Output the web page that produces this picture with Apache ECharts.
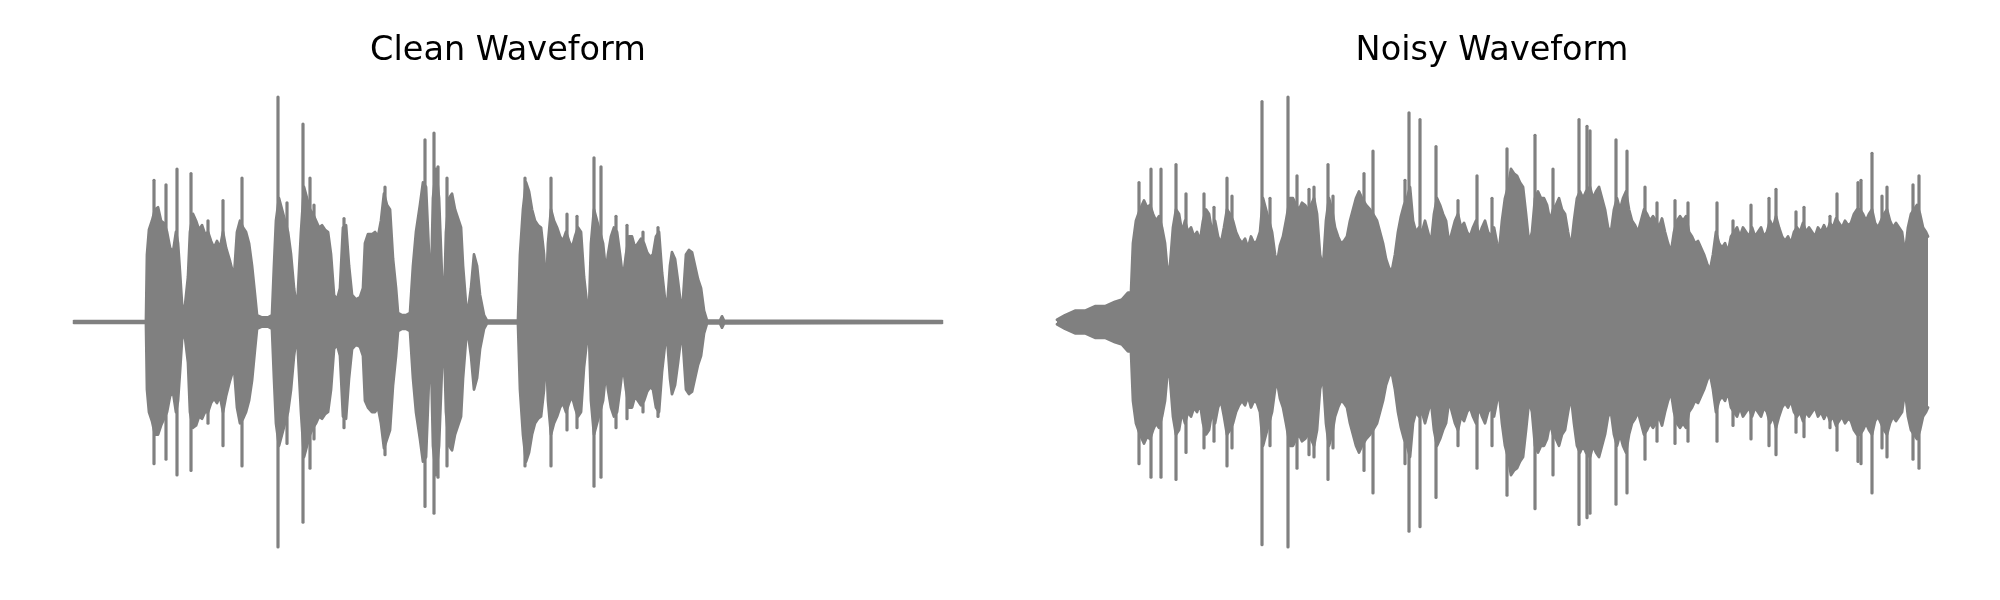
<!DOCTYPE html>
<html>
<head>
<meta charset="utf-8">
<script src="https://cdn.jsdelivr.net/npm/echarts@6/dist/echarts.min.js"></script>
<style>html,body{margin:0;padding:0;background:#fff}#c{width:2000px;height:600px}</style>
</head>
<body>
<div id="c"></div>
<script>
// Titles
const titles = ['Clean Waveform', 'Noisy Waveform'];
// Durations (s)
const cleanDuration = 8.68;
const noisyDuration = 8.71;

// Envelope of the clean waveform: [time s, upper, lower]
const cleanEnvelope = [
[0.00,0.004,-0.004],[0.72,0.004,-0.004],[0.73,0.30,-0.30],[0.75,0.41,-0.40],[0.78,0.45,-0.44],
[0.81,0.50,-0.50],[0.84,0.51,-0.50],[0.87,0.45,-0.46],[0.90,0.44,-0.43],[0.93,0.40,-0.40],
[0.96,0.33,-0.33],[0.99,0.31,-0.31],[1.02,0.40,-0.40],[1.04,0.35,-0.35],[1.06,0.22,-0.22],
[1.08,0.08,-0.08],[1.10,0.03,-0.03],[1.12,0.03,-0.03],[1.14,0.20,-0.18],[1.16,0.40,-0.40],
[1.19,0.48,-0.47],[1.22,0.45,-0.46],[1.25,0.41,-0.42],[1.28,0.43,-0.43],[1.31,0.39,-0.40],
[1.34,0.40,-0.40],[1.37,0.36,-0.36],[1.40,0.33,-0.34],[1.43,0.36,-0.36],[1.46,0.33,-0.33],
[1.49,0.40,-0.40],[1.52,0.33,-0.33],[1.56,0.27,-0.26],[1.60,0.20,-0.20],[1.63,0.40,-0.38],
[1.66,0.45,-0.45],[1.69,0.42,-0.43],[1.72,0.40,-0.40],[1.75,0.35,-0.35],[1.78,0.25,-0.26],
[1.81,0.12,-0.12],[1.83,0.03,-0.03],[1.88,0.02,-0.02],[1.94,0.02,-0.02],[1.98,0.03,-0.03],
[2.00,0.25,-0.25],[2.02,0.45,-0.45],[2.05,0.55,-0.55],[2.08,0.50,-0.50],[2.11,0.45,-0.45],
[2.14,0.40,-0.40],[2.17,0.30,-0.30],[2.20,0.15,-0.15],[2.23,0.05,-0.05],[2.25,0.05,-0.05],
[2.27,0.40,-0.40],[2.30,0.60,-0.60],[2.33,0.55,-0.55],[2.36,0.50,-0.50],[2.39,0.48,-0.47],
[2.42,0.45,-0.45],[2.45,0.42,-0.42],[2.48,0.43,-0.43],[2.51,0.41,-0.41],[2.54,0.40,-0.40],
[2.57,0.30,-0.30],[2.60,0.12,-0.12],[2.63,0.10,-0.10],[2.66,0.15,-0.15],[2.69,0.42,-0.42],
[2.72,0.43,-0.43],[2.75,0.25,-0.25],[2.78,0.12,-0.12],[2.82,0.10,-0.10],[2.86,0.11,-0.11],
[2.89,0.15,-0.15],[2.91,0.35,-0.35],[2.94,0.39,-0.38],[2.98,0.39,-0.40],[3.01,0.40,-0.40],
[3.04,0.38,-0.38],[3.07,0.45,-0.45],[3.10,0.57,-0.56],[3.13,0.52,-0.52],[3.16,0.50,-0.48],
[3.19,0.28,-0.28],[3.22,0.15,-0.15],[3.24,0.04,-0.04],[3.28,0.03,-0.03],[3.32,0.03,-0.03],
[3.36,0.04,-0.04],[3.39,0.25,-0.25],[3.42,0.40,-0.40],[3.46,0.52,-0.52],[3.49,0.62,-0.62],
[3.52,0.60,-0.60],[3.55,0.30,-0.25],[3.57,0.15,-0.15],[3.59,0.55,-0.55],[3.62,0.68,-0.68],
[3.65,0.55,-0.55],[3.68,0.20,-0.20],[3.70,0.07,-0.07],[3.72,0.40,-0.40],[3.75,0.55,-0.55],
[3.78,0.57,-0.57],[3.81,0.50,-0.50],[3.84,0.46,-0.46],[3.87,0.42,-0.42],[3.89,0.25,-0.25],
[3.92,0.08,-0.08],[3.94,0.05,-0.05],[3.97,0.15,-0.15],[4.00,0.30,-0.30],[4.03,0.25,-0.25],
[4.06,0.12,-0.12],[4.10,0.03,-0.03],[4.13,0.006,-0.006],[4.44,0.006,-0.006],[4.46,0.30,-0.30],
[4.49,0.50,-0.50],[4.52,0.62,-0.62],[4.55,0.58,-0.58],[4.58,0.50,-0.50],[4.61,0.45,-0.45],
[4.64,0.43,-0.43],[4.67,0.42,-0.42],[4.70,0.30,-0.30],[4.72,0.12,-0.12],[4.74,0.35,-0.35],
[4.77,0.50,-0.50],[4.80,0.45,-0.45],[4.83,0.42,-0.42],[4.86,0.38,-0.38],[4.89,0.36,-0.36],
[4.92,0.40,-0.40],[4.95,0.36,-0.36],[4.98,0.33,-0.33],[5.01,0.38,-0.38],[5.04,0.42,-0.42],
[5.07,0.40,-0.40],[5.10,0.20,-0.20],[5.13,0.08,-0.08],[5.15,0.05,-0.05],[5.17,0.35,-0.35],
[5.20,0.50,-0.50],[5.23,0.45,-0.45],[5.26,0.40,-0.40],[5.29,0.35,-0.35],[5.32,0.22,-0.22],
[5.34,0.30,-0.30],[5.37,0.38,-0.38],[5.40,0.42,-0.42],[5.43,0.40,-0.40],[5.46,0.30,-0.30],
[5.49,0.19,-0.19],[5.52,0.30,-0.30],[5.55,0.38,-0.38],[5.58,0.38,-0.38],[5.61,0.33,-0.33],
[5.64,0.35,-0.35],[5.67,0.37,-0.37],[5.70,0.35,-0.35],[5.73,0.31,-0.31],[5.76,0.29,-0.29],
[5.79,0.30,-0.30],[5.82,0.38,-0.38],[5.85,0.40,-0.40],[5.88,0.22,-0.22],[5.91,0.10,-0.10],
[5.93,0.06,-0.06],[5.96,0.25,-0.25],[5.98,0.31,-0.32],[6.01,0.28,-0.28],[6.04,0.18,-0.18],
[6.07,0.07,-0.07],[6.09,0.10,-0.10],[6.12,0.30,-0.30],[6.15,0.32,-0.32],[6.18,0.31,-0.31],
[6.21,0.25,-0.25],[6.24,0.19,-0.19],[6.27,0.15,-0.15],[6.30,0.05,-0.05],[6.33,0.006,-0.006],
[6.46,0.006,-0.006],[6.48,0.025,-0.025],[6.50,0.006,-0.006],[8.68,0.004,-0.004]
];

// Prominent single peaks of the clean waveform: [time s, upper, lower]
const cleanPeaks = [
[0.80,0.63,-0.63],[0.92,0.61,-0.61],[1.03,0.68,-0.68],[1.17,0.66,-0.66],[1.34,0.45,-0.45],
[1.49,0.54,-0.55],[1.68,0.64,-0.64],[2.04,1.00,-1.00],[2.13,0.53,-0.54],[2.29,0.88,-0.89],
[2.36,0.64,-0.65],[2.40,0.52,-0.52],[2.70,0.46,-0.47],[3.11,0.60,-0.59],[3.51,0.81,-0.82],
[3.60,0.84,-0.85],[3.64,0.69,-0.69],[3.73,0.64,-0.64],[4.51,0.64,-0.64],[4.77,0.64,-0.64],
[4.93,0.48,-0.48],[5.03,0.47,-0.47],[5.20,0.73,-0.73],[5.27,0.69,-0.69],[5.42,0.47,-0.47],
[5.53,0.43,-0.43],[5.69,0.40,-0.40],[5.84,0.42,-0.42]
];

// Envelope of the noisy waveform: [time s, upper, lower]
const noisyEnvelope = [
[0.00,0.01,-0.01],[0.08,0.03,-0.03],[0.18,0.05,-0.05],[0.28,0.05,-0.05],[0.38,0.07,-0.07],
[0.48,0.07,-0.07],[0.58,0.09,-0.09],[0.65,0.10,-0.10],[0.71,0.13,-0.13],[0.74,0.13,-0.13],
[0.76,0.35,-0.35],[0.79,0.45,-0.45],[0.83,0.50,-0.50],[0.87,0.54,-0.54],[0.90,0.51,-0.51],
[0.93,0.52,-0.52],[0.96,0.48,-0.48],[0.99,0.45,-0.45],[1.02,0.47,-0.47],[1.05,0.42,-0.42],
[1.08,0.35,-0.35],[1.11,0.20,-0.20],[1.13,0.25,-0.25],[1.16,0.42,-0.42],[1.19,0.50,-0.50],
[1.22,0.48,-0.48],[1.25,0.40,-0.40],[1.28,0.45,-0.45],[1.31,0.40,-0.40],[1.34,0.42,-0.42],
[1.37,0.38,-0.38],[1.40,0.40,-0.40],[1.43,0.36,-0.36],[1.46,0.45,-0.45],[1.49,0.50,-0.50],
[1.52,0.48,-0.48],[1.55,0.40,-0.40],[1.58,0.45,-0.45],[1.61,0.38,-0.38],[1.64,0.35,-0.35],
[1.67,0.42,-0.42],[1.70,0.50,-0.50],[1.73,0.48,-0.48],[1.76,0.45,-0.45],[1.79,0.40,-0.40],
[1.82,0.37,-0.37],[1.85,0.35,-0.35],[1.88,0.37,-0.37],[1.91,0.33,-0.33],[1.94,0.38,-0.38],
[1.97,0.35,-0.35],[2.00,0.36,-0.36],[2.03,0.40,-0.40],[2.06,0.55,-0.55],[2.09,0.50,-0.50],
[2.12,0.45,-0.45],[2.15,0.40,-0.40],[2.18,0.30,-0.30],[2.20,0.26,-0.26],[2.23,0.34,-0.34],
[2.26,0.38,-0.38],[2.29,0.45,-0.45],[2.33,0.55,-0.55],[2.36,0.55,-0.55],[2.39,0.52,-0.52],
[2.42,0.50,-0.50],[2.45,0.53,-0.53],[2.48,0.52,-0.52],[2.51,0.50,-0.50],[2.54,0.52,-0.52],
[2.57,0.55,-0.55],[2.60,0.48,-0.48],[2.63,0.30,-0.30],[2.66,0.24,-0.24],[2.69,0.45,-0.45],
[2.72,0.55,-0.55],[2.75,0.50,-0.50],[2.78,0.42,-0.42],[2.81,0.38,-0.38],[2.84,0.35,-0.35],
[2.87,0.36,-0.36],[2.90,0.38,-0.38],[2.93,0.45,-0.45],[2.96,0.50,-0.50],[2.99,0.55,-0.55],
[3.02,0.58,-0.58],[3.05,0.55,-0.55],[3.09,0.52,-0.52],[3.13,0.50,-0.50],[3.16,0.48,-0.48],
[3.20,0.45,-0.45],[3.23,0.40,-0.40],[3.26,0.35,-0.35],[3.29,0.28,-0.28],[3.32,0.24,-0.24],
[3.35,0.23,-0.23],[3.38,0.30,-0.30],[3.41,0.40,-0.40],[3.44,0.47,-0.47],[3.47,0.52,-0.52],
[3.50,0.55,-0.55],[3.53,0.60,-0.60],[3.56,0.45,-0.45],[3.59,0.40,-0.40],[3.62,0.42,-0.42],
[3.65,0.40,-0.40],[3.68,0.45,-0.45],[3.71,0.40,-0.40],[3.74,0.35,-0.35],[3.77,0.48,-0.48],
[3.80,0.55,-0.55],[3.83,0.52,-0.52],[3.86,0.48,-0.48],[3.89,0.45,-0.45],[3.92,0.35,-0.35],
[3.95,0.40,-0.40],[3.98,0.45,-0.45],[4.01,0.48,-0.48],[4.04,0.42,-0.42],[4.07,0.44,-0.44],
[4.10,0.40,-0.40],[4.13,0.38,-0.38],[4.16,0.42,-0.42],[4.19,0.45,-0.45],[4.22,0.38,-0.38],
[4.25,0.42,-0.42],[4.28,0.45,-0.45],[4.31,0.40,-0.40],[4.34,0.38,-0.38],[4.37,0.42,-0.42],
[4.40,0.35,-0.35],[4.42,0.31,-0.31],[4.45,0.45,-0.45],[4.48,0.55,-0.55],[4.51,0.60,-0.60],
[4.54,0.68,-0.68],[4.57,0.66,-0.66],[4.60,0.65,-0.65],[4.63,0.62,-0.62],[4.66,0.60,-0.60],
[4.69,0.48,-0.48],[4.72,0.35,-0.35],[4.75,0.40,-0.40],[4.78,0.55,-0.55],[4.81,0.58,-0.58],
[4.84,0.55,-0.55],[4.87,0.55,-0.55],[4.90,0.52,-0.52],[4.93,0.45,-0.45],[4.96,0.50,-0.50],
[4.99,0.52,-0.52],[5.02,0.55,-0.55],[5.05,0.50,-0.50],[5.08,0.48,-0.48],[5.11,0.40,-0.40],
[5.14,0.33,-0.33],[5.17,0.45,-0.45],[5.20,0.55,-0.55],[5.23,0.58,-0.58],[5.26,0.55,-0.55],
[5.29,0.58,-0.58],[5.33,0.60,-0.60],[5.36,0.55,-0.55],[5.39,0.58,-0.58],[5.42,0.60,-0.60],
[5.45,0.55,-0.55],[5.48,0.50,-0.50],[5.51,0.42,-0.42],[5.54,0.40,-0.40],[5.57,0.50,-0.50],
[5.60,0.55,-0.55],[5.63,0.50,-0.50],[5.66,0.55,-0.55],[5.69,0.58,-0.58],[5.72,0.50,-0.50],
[5.75,0.45,-0.45],[5.78,0.43,-0.43],[5.81,0.40,-0.40],[5.84,0.45,-0.45],[5.87,0.50,-0.50],
[5.90,0.48,-0.48],[5.93,0.45,-0.45],[5.96,0.47,-0.47],[5.99,0.45,-0.45],[6.02,0.42,-0.42],
[6.05,0.46,-0.46],[6.08,0.40,-0.40],[6.11,0.35,-0.35],[6.14,0.31,-0.31],[6.17,0.40,-0.40],
[6.20,0.45,-0.45],[6.23,0.47,-0.47],[6.26,0.45,-0.45],[6.29,0.47,-0.47],[6.32,0.40,-0.40],
[6.35,0.38,-0.38],[6.38,0.35,-0.35],[6.41,0.36,-0.36],[6.44,0.33,-0.33],[6.47,0.30,-0.30],
[6.50,0.26,-0.26],[6.53,0.23,-0.23],[6.56,0.30,-0.30],[6.59,0.40,-0.40],[6.62,0.35,-0.35],
[6.65,0.33,-0.33],[6.68,0.35,-0.35],[6.71,0.31,-0.31],[6.74,0.38,-0.38],[6.77,0.40,-0.40],
[6.80,0.42,-0.42],[6.83,0.38,-0.38],[6.86,0.42,-0.42],[6.89,0.40,-0.40],[6.92,0.38,-0.38],
[6.95,0.42,-0.42],[6.98,0.38,-0.38],[7.01,0.40,-0.40],[7.04,0.42,-0.42],[7.07,0.38,-0.38],
[7.10,0.40,-0.40],[7.13,0.45,-0.45],[7.16,0.42,-0.42],[7.19,0.47,-0.47],[7.22,0.42,-0.42],
[7.25,0.38,-0.38],[7.28,0.36,-0.36],[7.31,0.38,-0.38],[7.34,0.35,-0.35],[7.37,0.40,-0.40],
[7.40,0.42,-0.42],[7.43,0.40,-0.40],[7.46,0.44,-0.44],[7.49,0.40,-0.40],[7.52,0.42,-0.42],
[7.55,0.40,-0.40],[7.58,0.38,-0.38],[7.61,0.42,-0.42],[7.64,0.40,-0.40],[7.67,0.43,-0.43],
[7.70,0.40,-0.40],[7.73,0.44,-0.44],[7.76,0.42,-0.42],[7.79,0.46,-0.46],[7.82,0.44,-0.44],
[7.85,0.42,-0.42],[7.88,0.45,-0.45],[7.91,0.43,-0.43],[7.94,0.44,-0.44],[7.97,0.48,-0.48],
[8.00,0.50,-0.50],[8.03,0.50,-0.50],[8.06,0.48,-0.48],[8.09,0.45,-0.45],[8.12,0.48,-0.48],
[8.15,0.50,-0.50],[8.18,0.44,-0.44],[8.21,0.42,-0.42],[8.24,0.45,-0.45],[8.27,0.48,-0.48],
[8.30,0.50,-0.50],[8.33,0.45,-0.45],[8.36,0.42,-0.42],[8.39,0.44,-0.44],[8.42,0.42,-0.42],
[8.45,0.40,-0.40],[8.48,0.30,-0.30],[8.51,0.42,-0.42],[8.54,0.48,-0.48],[8.57,0.50,-0.50],
[8.60,0.52,-0.52],[8.63,0.48,-0.48],[8.66,0.42,-0.42],[8.69,0.40,-0.40],[8.71,0.38,-0.38]
];

// Prominent single peaks of the noisy waveform: [time s, upper, lower]
const noisyPeaks = [
[0.82,0.62,-0.63],[0.94,0.68,-0.69],[1.04,0.68,-0.69],[1.19,0.70,-0.70],[1.29,0.57,-0.58],
[1.47,0.57,-0.56],[1.57,0.51,-0.53],[1.70,0.64,-0.64],[1.75,0.56,-0.56],[2.05,0.98,-0.99],
[2.13,0.55,-0.55],[2.31,1.00,-1.00],[2.40,0.65,-0.65],[2.52,0.59,-0.59],[2.57,0.60,-0.60],
[2.71,0.70,-0.70],[2.76,0.56,-0.56],[3.07,0.66,-0.66],[3.16,0.76,-0.76],[3.48,0.63,-0.63],
[3.52,0.93,-0.93],[3.63,0.90,-0.91],[3.79,0.78,-0.78],[4.01,0.54,-0.55],[4.20,0.65,-0.65],
[4.35,0.55,-0.55],[4.50,0.77,-0.77],[4.78,0.83,-0.83],[4.96,0.68,-0.68],[5.22,0.90,-0.90],
[5.30,0.87,-0.87],[5.33,0.85,-0.85],[5.59,0.81,-0.81],[5.70,0.76,-0.76],[5.88,0.60,-0.61],
[6.00,0.53,-0.53],[6.18,0.54,-0.54],[6.31,0.53,-0.53],[6.60,0.53,-0.53],[6.76,0.45,-0.46],
[6.94,0.52,-0.52],[7.12,0.55,-0.55],[7.19,0.59,-0.59],[7.39,0.49,-0.49],[7.47,0.51,-0.51],
[7.73,0.47,-0.47],[7.80,0.57,-0.57],[8.01,0.62,-0.62],[8.04,0.63,-0.63],[8.15,0.75,-0.76],
[8.25,0.56,-0.56],[8.30,0.60,-0.60],[8.56,0.61,-0.61],[8.62,0.65,-0.65]
];

const GRAY = '#808080';
const LW = 2.8;

function envSeries(env, idx) {
  const common = {
    type: 'line', xAxisIndex: idx, yAxisIndex: idx, showSymbol: false, symbol: 'none',
    lineStyle: { color: GRAY, width: LW, join: 'round', cap: 'round' }, itemStyle: { color: GRAY },
    areaStyle: { color: GRAY, opacity: 1, origin: 'auto' }, silent: true, z: 2
  };
  return [
    Object.assign({}, common, { data: env.map(d => [d[0], d[1]]) }),
    Object.assign({}, common, { data: env.map(d => [d[0], d[2]]) })
  ];
}
function peakSeries(peaks, idx) {
  return {
    type: 'custom', xAxisIndex: idx, yAxisIndex: idx, silent: true, z: 3,
    encode: { x: 0, y: [1, 2] },
    data: peaks,
    renderItem: function (params, api) {
      const a = api.coord([api.value(0), api.value(1)]);
      const b = api.coord([api.value(0), api.value(2)]);
      return { type: 'line', shape: { x1: a[0], y1: a[1], x2: b[0], y2: b[1] },
               style: { stroke: GRAY, lineWidth: 3.2, lineCap: 'round' } };
    }
  };
}

const chart = echarts.init(document.getElementById('c'), null, { renderer: 'canvas' });
const titleStyle = { fontSize: 33.5, fontWeight: 'normal', color: '#000', fontFamily: 'DejaVu Sans' };
chart.setOption({
  animation: false,
  backgroundColor: '#fff',
  title: [
    { text: titles[0], left: 503, top: 29, textAlign: 'center', textStyle: titleStyle },
    { text: titles[1], left: 1487, top: 29, textAlign: 'center', textStyle: titleStyle }
  ],
  grid: [
    { left: 74, right: 1058, top: 97, height: 450 },
    { left: 1057, right: 72, top: 97, height: 450 }
  ],
  xAxis: [
    { type: 'value', gridIndex: 0, min: 0, max: cleanDuration, show: false, splitLine: { show: false } },
    { type: 'value', gridIndex: 1, min: 0, max: noisyDuration, show: false, splitLine: { show: false } }
  ],
  yAxis: [
    { type: 'value', gridIndex: 0, min: -1, max: 1, show: false, splitLine: { show: false } },
    { type: 'value', gridIndex: 1, min: -1, max: 1, show: false, splitLine: { show: false } }
  ],
  series: [].concat(
    envSeries(cleanEnvelope, 0), [peakSeries(cleanPeaks, 0)],
    envSeries(noisyEnvelope, 1), [peakSeries(noisyPeaks, 1)]
  )
});
</script>
</body>
</html>
